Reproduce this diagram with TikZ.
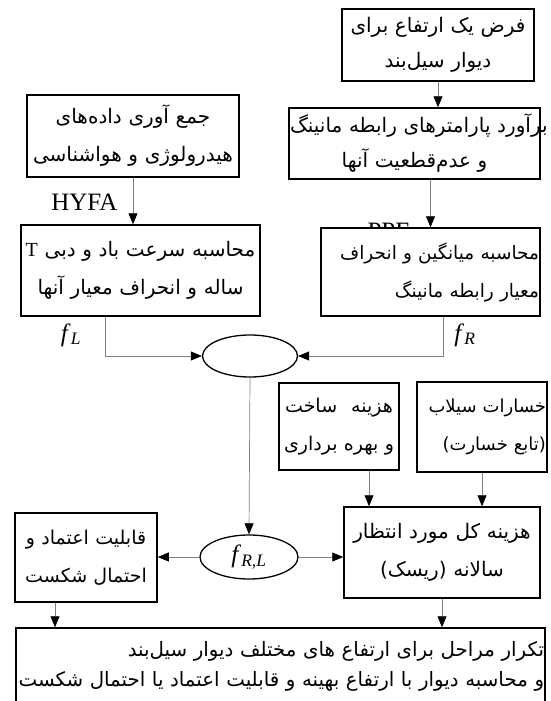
\documentclass[tikz,border=0pt]{standalone}
\usepackage{fontspec}
\setmainfont{Liberation Serif}
\newfontfamily\farsi[Script=Arabic]{DejaVu Sans}
\newfontfamily\parensans{DejaVu Sans}
\TeXXeTstate=1
\newcommand{\rl}[1]{\leavevmode\hbox{\beginR#1\endR}}
\newcommand{\fsub}[1]{\textit{f}\textsubscript{\textit{#1}}}
\usetikzlibrary{arrows.meta,shapes.geometric}
\tikzset{
	every node/.style={
		font=\fontsize{25}{28}\selectfont
	},
	caja/.style={
		shape=rectangle,
		draw,
		line width=1.5pt,
		fill=white,
		inner sep=1pt,
		align=center,
		font=\farsi\fontsize{20}{38}\selectfont
	},
	elipse/.style={
		shape=ellipse,
		draw,
		line width=1.3pt,
		fill=white,
		inner sep=0pt
	},
	flecha/.style={
		draw=black!50,
		line width=0.7pt,
		-{Triangle[length=11pt,width=9pt,color=black]}
	}
}

\begin{document}
\begin{tikzpicture}[x=1pt,y=-1pt]
	\useasboundingbox (0,0) rectangle (551,701);
	
	% etiquetas
	\node[anchor=base east] (hyfa) at (121,210) {HYFA};
	\node[anchor=base west] (ppe) at (364,239) {PPE};
	
	% cajas
	\node[caja, text width=190pt, minimum height=72pt, font=\farsi\fontsize{20}{35}\selectfont] (altura) at (438,45)
		{\rl{فرض یک ارتفاع برای}\\\rl{دیوار سیل‌بند}};
	\node[caja, text width=249pt, minimum height=71pt, font=\farsi\fontsize{20}{35}\selectfont] (manning) at (414.5,143.5)
		{\rl{برآورد پارامترهای رابطه مانینگ}\\\rl{و عدم‌قطعیت آنها}};
	\node[caja, text width=210pt, minimum height=82pt] (datos) at (133,136)
		{\rl{جمع آوری داده‌های}\\\rl{هیدرولوژی و هواشناسی}};
	\node[caja, text width=237pt, minimum height=91pt] (caudal) at (140.5,270.5)
		{\rl{محاسبه سرعت باد و دبی \beginL{\rmfamily T}\endL}\\\rl{ساله و انحراف معیار آنها}};
	\node[caja, text width=217pt, minimum height=88pt, align=right, font=\farsi\fontsize{18.5}{38}\selectfont] (media) at (430.5,272)
		{\rl{محاسبه میانگین و انحراف}\\\rl{معیار رابطه مانینگ}};
	\node[caja, text width=118pt, minimum height=87pt, font=\farsi\fontsize{19}{38}\selectfont] (costo) at (339,426.5)
		{\rl{هزینه\hspace{14pt}ساخت}\\\rl{و بهره برداری}};
	\node[caja, text width=128pt, minimum height=90pt, align=right, font=\farsi\fontsize{18}{38}\selectfont] (dano) at (482,427)
		{\rl{خسارات سیلاب}\\\rl{{\parensans)}تابع خسارت{\parensans(}}\hspace{4pt}};
	\node[caja, text width=194pt, minimum height=91pt] (riesgo) at (442,552.5)
		{\rl{هزینه کل مورد انتظار}\\\rl{سالانه {\parensans)}ریسک{\parensans(}}};
	\node[caja, text width=140pt, minimum height=89pt, font=\farsi\fontsize{19}{38}\selectfont] (fiab) at (86,557.5)
		{\rl{قابلیت اعتماد و}\\\rl{احتمال شکست}};
	\node[caja, text width=527pt, minimum height=77pt, align=right, font=\farsi\fontsize{19.8}{30}\selectfont] (repet) at (280.5,666.5)
		{\rl{تکرار مراحل برای ارتفاع های مختلف  دیوار سیل‌بند}\\\rl{و محاسبه دیوار با ارتفاع بهینه و قابلیت اعتماد یا احتمال شکست}};
	
	% elipses
	\node[elipse, minimum width=95pt, minimum height=42pt] (union) at (250,356) {};
	\node[elipse, minimum width=98pt, minimum height=44pt] (frl) at (249,557) {\fsub{R,L}};
	
	\node (fl) at (71,335) {\fsub{L}};
	\node (fr) at (465,335) {\fsub{R}};
	
	% conectores
	\draw[flecha] (altura.south) -- (altura.south |- manning.north);
	\draw[flecha] (manning.south -| media.north) -- (media.north);
	\draw[flecha] (datos.south) -- (datos.south |- caudal.north);
	\draw[flecha] ([xshift=-35.5pt]caudal.south) |- (union.west);
	\draw[flecha] ([xshift=12.5pt]media.south) |- (union.east);
	\draw[flecha] (union.south) -- (frl.north);
	\draw[flecha] (frl.west) -- (frl.west -| fiab.east);
	\draw[flecha] (frl.east) -- (frl.east -| riesgo.west);
	\draw[flecha] ([xshift=30pt]costo.south) -- ([xshift=30pt]costo.south |- riesgo.north);
	\draw[flecha] (dano.south) -- (dano.south |- riesgo.north);
	\draw[flecha] ([xshift=-31pt]fiab.south) -- ([xshift=-31pt]fiab.south |- repet.north);
	\draw[flecha] (riesgo.south) -- (riesgo.south |- repet.north);
\end{tikzpicture}
\end{document}
